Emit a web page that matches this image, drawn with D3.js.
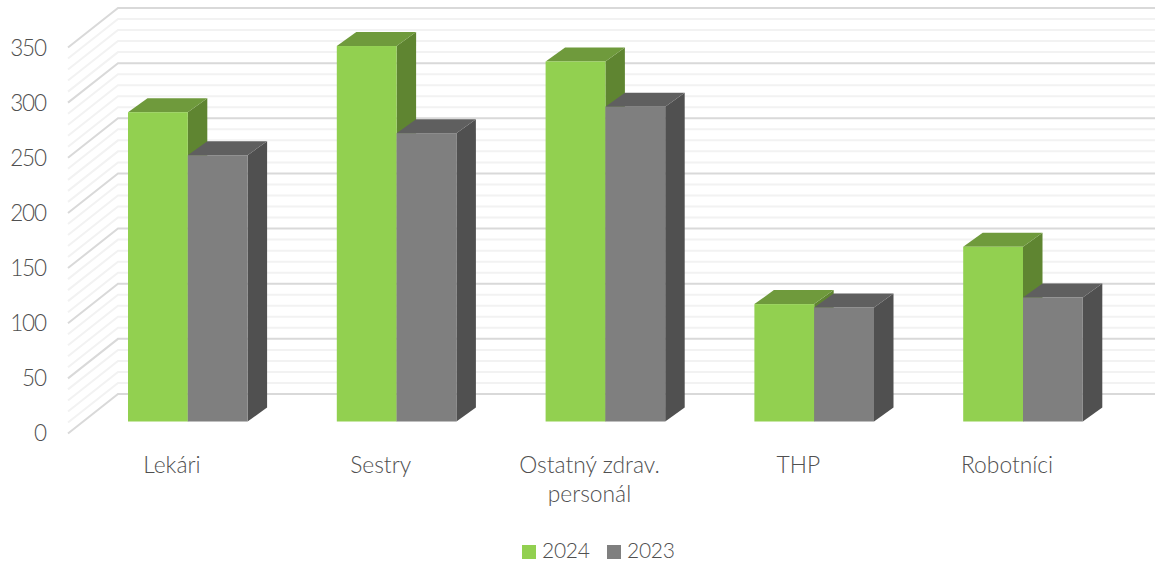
<!DOCTYPE html>
<html><head><meta charset="utf-8">
<script src="https://cdnjs.cloudflare.com/ajax/libs/d3/7.8.5/d3.min.js"></script>
<style>html,body{margin:0;padding:0;background:#fff}svg{display:block}text{font-family:Lato,"Open Sans",sans-serif;font-weight:300;fill:#505050}</style>
</head><body><svg id="c" width="1155" height="562"></svg>
<script>
const categories = ["Lekári","Sestry","Ostatný zdrav. personál","THP","Robotníci"];
const categoryLines = [["Lekári"],["Sestry"],["Ostatný zdrav.","personál"],["THP"],["Robotníci"]];
const values2024 = [280,340,326,106,158];
const values2023 = [241,261,285,103,112];
const seriesNames = ["2024","2023"];
const yTicks = [0,50,100,150,200,250,300,350];
const minorTicks = d3.range(0,351,10);

const svg=d3.select("#c");
const depthX=19.5, depthY=14;
const wallDX=50, wallDY=39.5;
const yBack=d3.scaleLinear().domain([0,350]).range([394,8]);
const frontBase=421.5;
const yFront=v=>yBack(v)+(421-yBack(0));
const x0=d3.scaleBand().domain(categories).range([66,1110]);
const x1=d3.scaleBand().domain(seriesNames).range([62,181.6]);
const colors={ "2024":{f:"#92D050",t:"#6F9A3C",s:"#5F8531"}, "2023":{f:"#7F7F7F",t:"#5F5F5F",s:"#505050"} };
const wallLeft=118,wallRight=1155;

const grid=svg.append("g");
minorTicks.filter(v=>v%50!==0).forEach(v=>drawGrid(v,"#f2f2f2"));
yTicks.forEach(v=>drawGrid(v,"#d9d9d9"));
function drawGrid(v,c){
  grid.append("path").attr("fill","none").attr("stroke",c).attr("stroke-width",2)
    .attr("d",`M${wallLeft-wallDX},${yBack(v)+wallDY}L${wallLeft},${yBack(v)}L${wallRight},${yBack(v)}`);
}
const yAxisScale=d3.scaleLinear().domain([0,350]).range([yBack(0)+39.5,yBack(350)+40]);
const yAxis=d3.axisLeft(yAxisScale).tickValues(yTicks).tickSize(0).tickPadding(0);
const ag=svg.append("g").attr("transform","translate(46,0)").call(yAxis);
ag.select(".domain").remove();
ag.attr("font-family",null).attr("font-size",null);
ag.selectAll("text").attr("font-size",22.5).attr("letter-spacing",-1.1);

function bar(g,x,w,v,c){
  const top=yFront(v);
  g.append("path").attr("fill",c.s).attr("d",`M${x+w},${frontBase}L${x+w+depthX},${frontBase-depthY}L${x+w+depthX},${top-depthY}L${x+w},${top}Z`);
  g.append("path").attr("fill",c.t).attr("d",`M${x},${top}L${x+depthX},${top-depthY}L${x+w+depthX},${top-depthY}L${x+w},${top}Z`);
  g.append("rect").attr("x",x).attr("y",top).attr("width",w).attr("height",frontBase-top).attr("fill",c.f);
}
categories.forEach((cat,i)=>{
  const g=svg.append("g"), bx=x0(cat);
  bar(g,bx+x1("2024"),x1.bandwidth(),values2024[i],colors["2024"]);
  bar(g,bx+x1("2023"),x1.bandwidth(),values2023[i],colors["2023"]);
  const t=g.append("text").attr("text-anchor","middle").attr("font-size",22.8);
  categoryLines[i].forEach((l,j)=>t.append("tspan").attr("x",bx+x0.bandwidth()/2+1.5).attr("y",473+j*29).text(l));
});
const lg=svg.append("g");
const legendX=d3.scaleOrdinal().domain(seriesNames).range([522,607]);
seriesNames.forEach(n=>{
  lg.append("rect").attr("x",legendX(n)).attr("y",545).attr("width",14).attr("height",14).attr("fill",colors[n].f);
  lg.append("text").attr("x",legendX(n)+20).attr("y",558).attr("font-size",21).attr("letter-spacing",-0.3).text(n);
});
</script></body></html>
